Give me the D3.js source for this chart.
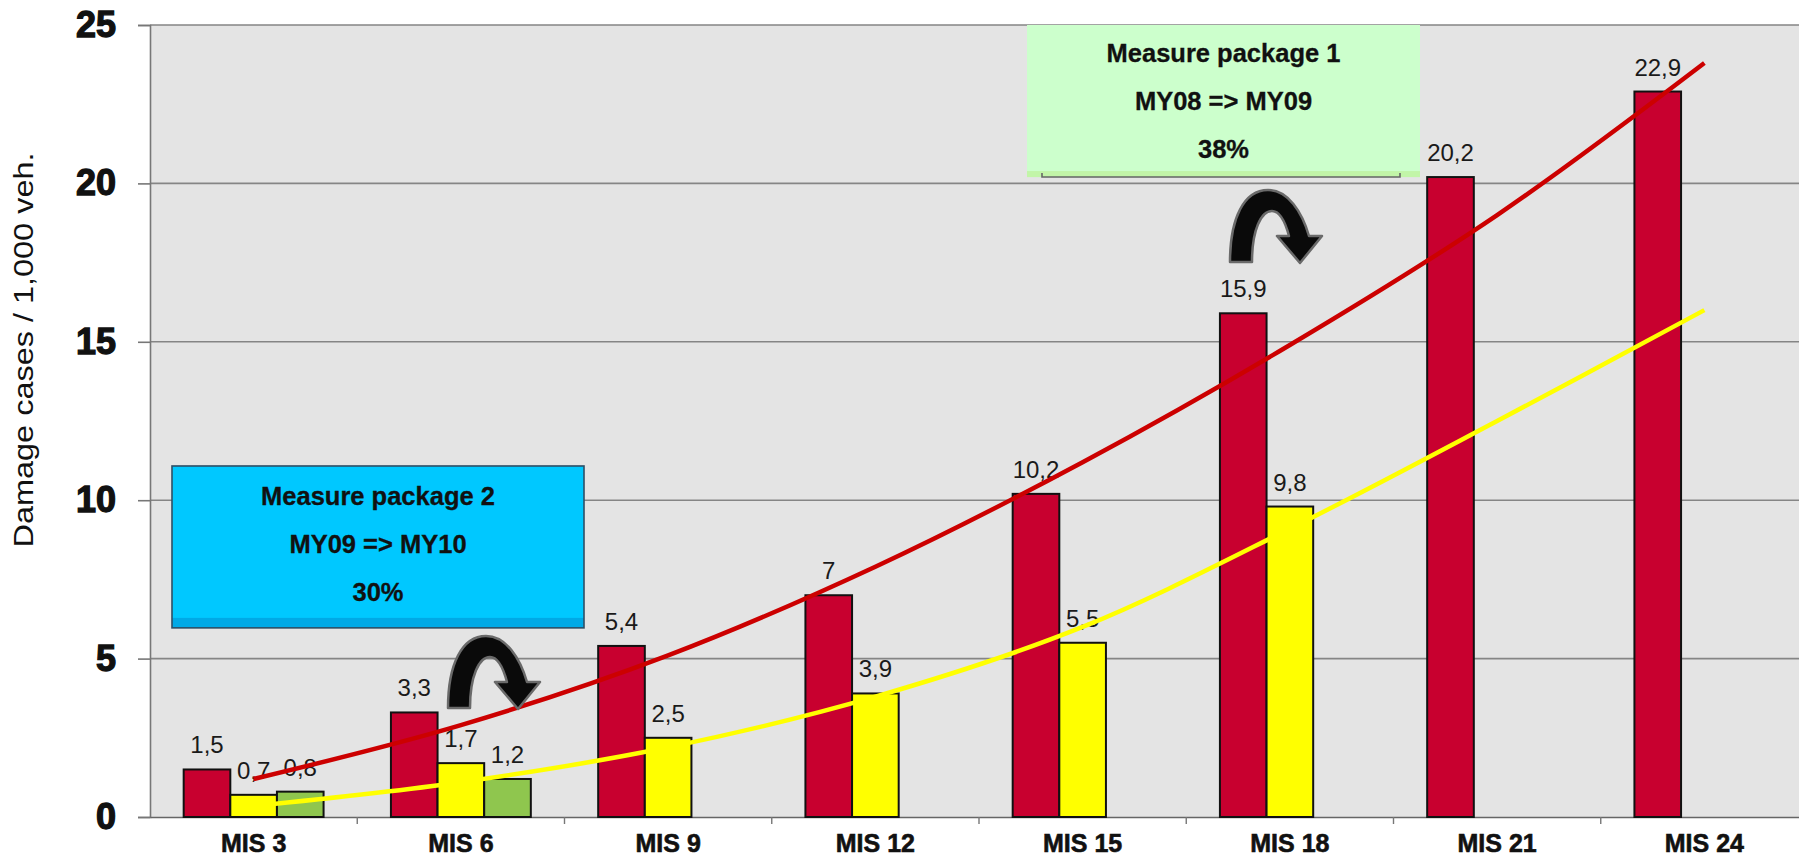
<!DOCTYPE html>
<html>
<head>
<meta charset="utf-8">
<script src="https://cdn.jsdelivr.net/npm/d3@7"></script>
<style>
  body { margin: 0; background: #ffffff; }
  svg { display: block; font-family: "Liberation Sans", Arial, Helvetica, sans-serif; }
</style>
</head>
<body>
<svg id="chart" width="1799" height="861"></svg>
<script>
// ---- data ----
const categories = ["MIS 3", "MIS 6", "MIS 9", "MIS 12", "MIS 15", "MIS 18", "MIS 21", "MIS 24"];
const seriesKeys = ["MY08", "MY09", "MY10"];
const valuesMY08 = [1.5, 3.3, 5.4, 7, 10.2, 15.9, 20.2, 22.9];
const valuesMY09 = [0.7, 1.7, 2.5, 3.9, 5.5, 9.8, null, null];
const valuesMY10 = [0.8, 1.2, null, null, null, null, null, null];
const trendMY08 = [1.2, 2.9, 5.1, 7.9, 11.2, 14.9, 19.0, 23.8];
const trendMY09 = [0.35, 1.1, 2.2, 3.8, 6.0, 9.1, 12.5, 16.0];
const yTicks = [0, 5, 10, 15, 20, 25];
const yTitle = "Damage cases / 1,000 veh.";
const package1Lines = ["Measure package 1", "MY08 => MY09", "38%"];
const package2Lines = ["Measure package 2", "MY09 => MY10", "30%"];

// ---- layout ----
const plot = { left: 150, right: 1808, top: 25, bottom: 817 };
const barColors = { MY08: "#c8002f", MY09: "#ffff00", MY10: "#8fc64e" };

const svg = d3.select("#chart");

const x = d3.scaleBand()
  .domain(categories)
  .range([plot.left, plot.right])
  .paddingInner(0.325)
  .paddingOuter(0.1625);

const xSub = d3.scaleBand()
  .domain(seriesKeys)
  .range([0, x.bandwidth()]);

const y = d3.scaleLinear()
  .domain([0, 25])
  .range([plot.bottom, plot.top]);

const fmt = v => String(v).replace(".", ",");

// plot background
svg.append("rect")
  .attr("x", plot.left).attr("y", plot.top)
  .attr("width", plot.right - plot.left).attr("height", plot.bottom - plot.top)
  .attr("fill", "#e4e4e4");

// horizontal gridlines
svg.append("g").selectAll("line")
  .data(yTicks.filter(t => t > 0))
  .join("line")
  .attr("x1", plot.left).attr("x2", plot.right)
  .attr("y1", d => y(d)).attr("y2", d => y(d))
  .attr("stroke", "#858585").attr("stroke-width", 1.6);

// y axis
const yAxis = svg.append("g")
  .attr("transform", `translate(${plot.left},0)`)
  .call(d3.axisLeft(y).tickValues(yTicks).tickSize(12).tickPadding(22).tickFormat(d3.format("d")));
yAxis.select(".domain").attr("stroke", "#777").attr("stroke-width", 1.6);
yAxis.selectAll(".tick line").attr("stroke", "#777").attr("stroke-width", 1.6);
yAxis.selectAll(".tick text")
  .attr("font-size", 36).attr("font-weight", "bold")
  .attr("font-family", "'Liberation Sans', Arial, sans-serif")
  .attr("fill", "#111").attr("stroke", "#111").attr("stroke-width", 1.3);

// x axis
const xAxis = svg.append("g")
  .attr("transform", `translate(0,${plot.bottom})`)
  .call(d3.axisBottom(x).tickSize(0).tickPadding(17));
xAxis.select(".domain").attr("stroke", "#666").attr("stroke-width", 1.6);
xAxis.selectAll(".tick text")
  .attr("font-size", 25).attr("font-weight", "bold")
  .attr("font-family", "'Liberation Sans', Arial, sans-serif")
  .attr("fill", "#111").attr("stroke", "#111").attr("stroke-width", 0.6);
// separators between categories
svg.append("g").selectAll("line")
  .data(categories.slice(1))
  .join("line")
  .attr("x1", d => x(d) - x.step() * x.paddingInner() / 2)
  .attr("x2", d => x(d) - x.step() * x.paddingInner() / 2)
  .attr("y1", plot.bottom).attr("y2", plot.bottom + 7)
  .attr("stroke", "#777").attr("stroke-width", 1.4);

// y axis title
svg.append("text")
  .attr("transform", `translate(33,350) rotate(-90)`)
  .attr("text-anchor", "middle")
  .attr("font-size", 28)
  .attr("textLength", 395)
  .attr("lengthAdjust", "spacingAndGlyphs")
  .attr("fill", "#111")
  .text(yTitle);

// bars
const seriesValues = { MY08: valuesMY08, MY09: valuesMY09, MY10: valuesMY10 };
const barData = [];
seriesKeys.forEach(k => {
  seriesValues[k].forEach((v, i) => {
    if (v !== null) barData.push({ key: k, cat: categories[i], value: v });
  });
});

svg.append("g").selectAll("rect")
  .data(barData)
  .join("rect")
  .attr("x", d => x(d.cat) + xSub(d.key))
  .attr("y", d => y(d.value))
  .attr("width", xSub.bandwidth())
  .attr("height", d => y(0) - y(d.value))
  .attr("fill", d => barColors[d.key])
  .attr("stroke", "#111")
  .attr("stroke-width", 2);

// value labels
svg.append("g").selectAll("text")
  .data(barData)
  .join("text")
  .attr("x", d => x(d.cat) + xSub(d.key) + xSub.bandwidth() / 2)
  .attr("y", d => y(d.value) - 16)
  .attr("text-anchor", "middle")
  .attr("font-size", 24)
  .attr("fill", "#1a1a1a")
  .text(d => fmt(d.value));

// trend lines
const trendLine = d3.line()
  .x((d, i) => x(categories[i]) + x.bandwidth() / 2)
  .y(d => y(d))
  .curve(d3.curveCatmullRom.alpha(0.5));

svg.append("path")
  .attr("d", trendLine(trendMY09))
  .attr("fill", "none").attr("stroke", "#ffff00").attr("stroke-width", 4.5);
svg.append("path")
  .attr("d", trendLine(trendMY08))
  .attr("fill", "none").attr("stroke", "#cc0000").attr("stroke-width", 4.5);

// annotation boxes
function packageBox(g, box, lines, fill) {
  g.append("rect")
    .attr("x", box.x0).attr("y", box.y0)
    .attr("width", box.x1 - box.x0).attr("height", box.y1 - box.y0)
    .attr("fill", fill);
}
function packageText(g, box, lines) {
  g.selectAll("text.pkg")
    .data(lines)
    .join("text")
    .attr("class", "pkg")
    .attr("x", (box.x0 + box.x1) / 2)
    .attr("y", (d, i) => box.textTop + i * 48)
    .attr("text-anchor", "middle")
    .attr("font-size", 25.5)
    .attr("font-weight", "bold")
    .attr("fill", "#111")
    .attr("stroke", "#111").attr("stroke-width", 0.3)
    .text(d => d);
}

// package 2 (blue)
const box2 = { x0: 172, x1: 584, y0: y(11.08), y1: y(5.97), textTop: 505 };
const g2 = svg.append("g");
packageBox(g2, box2, package2Lines, "#00c8ff");
g2.append("rect")
  .attr("x", box2.x0).attr("y", box2.y1 - 10)
  .attr("width", box2.x1 - box2.x0).attr("height", 10)
  .attr("fill", "#00a9e6");
g2.append("rect")
  .attr("x", box2.x0).attr("y", box2.y0)
  .attr("width", box2.x1 - box2.x0).attr("height", box2.y1 - box2.y0)
  .attr("fill", "none").attr("stroke", "#2d4f66").attr("stroke-width", 1.6);
packageText(g2, box2, package2Lines);

// package 1 (green)
const box1 = { x0: 1027, x1: 1420, y0: y(25), y1: y(20.2), textTop: 62 };
const g1 = svg.append("g");
packageBox(g1, box1, package1Lines, "#ccffcc");
g1.append("rect")
  .attr("x", box1.x0).attr("y", box1.y1 - 6)
  .attr("width", box1.x1 - box1.x0).attr("height", 6)
  .attr("fill", "#c2f5a8");
g1.append("path")
  .attr("d", `M${1042},${box1.y1 - 4} V${box1.y1} H${1400} V${box1.y1 - 4}`)
  .attr("fill", "none").attr("stroke", "#666").attr("stroke-width", 1.6);
packageText(g1, box1, package1Lines);

// U-turn arrows
const uturn = "M0,72 C0,28 14,0 38,0 C58,0 72,22 79,46 L92,46 L70,73 L47,46 L59,46 C55,31 50,21 42,21 C31,21 22,40 22,72 Z";
[[448, 636], [1230, 190]].forEach(([ax, ay]) => {
  svg.append("path")
    .attr("d", uturn)
    .attr("transform", `translate(${ax},${ay})`)
    .attr("fill", "#0a0a0a")
    .attr("stroke", "#6a6a6a")
    .attr("stroke-width", 2.5)
    .attr("stroke-linejoin", "round");
});
</script>
</body>
</html>
